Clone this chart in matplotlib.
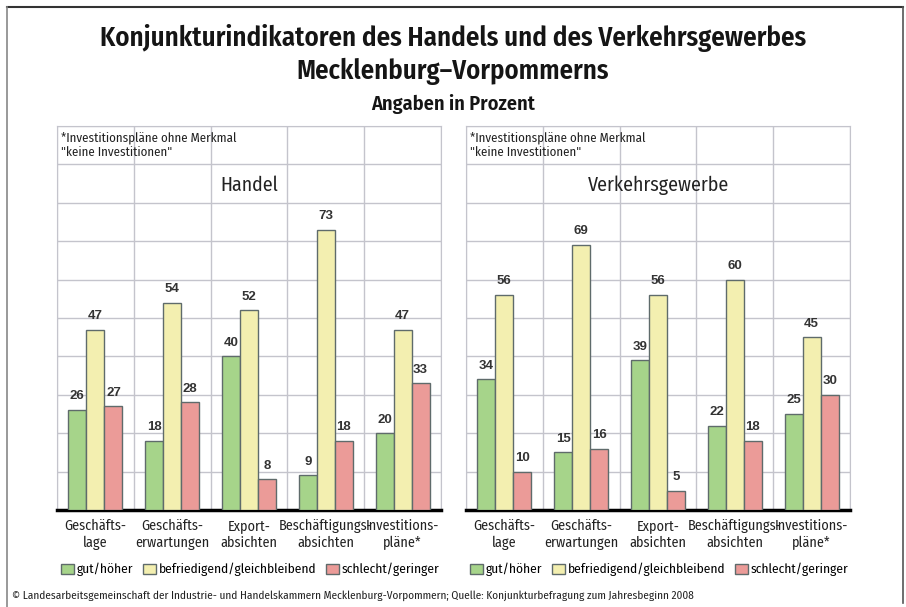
import numpy as np
import matplotlib
matplotlib.use("Agg")
import matplotlib.pyplot as plt
from matplotlib import font_manager
from matplotlib.patches import Patch
from matplotlib.lines import Line2D

# data
categories = ["Geschäfts-\nlage", "Geschäfts-\nerwartungen", "Export-\nabsichten",
              "Beschäftigungs-\nabsichten", "Investitions-\npläne*"]
series_names = ["gut/höher", "befriedigend/gleichbleibend", "schlecht/geringer"]
handel_gut = [26, 18, 40, 9, 20]
handel_befr = [47, 54, 52, 73, 47]
handel_schl = [27, 28, 8, 18, 33]
verkehr_gut = [34, 15, 39, 22, 25]
verkehr_befr = [56, 69, 56, 60, 45]
verkehr_schl = [10, 16, 5, 18, 30]

colors = ["#a6d48a", "#f3efb0", "#eb9b98"]

# pick a condensed font that is there
installed = set(f.name for f in font_manager.fontManager.ttflist)
narrow = "DejaVu Sans"
for cand in ["Fira Sans Condensed", "Encode Sans Semi Condensed", "Roboto Condensed",
             "Asap Condensed", "PT Sans Narrow", "Liberation Sans Narrow"]:
    if cand in installed:
        narrow = cand
        break
plt.rcParams['font.family'] = [narrow, "DejaVu Sans"]

fig = plt.figure(figsize=(9.06, 6.07), dpi=100)
W, H = 906, 607

def px_axes(x0, x1, y0, y1):
    return fig.add_axes([x0 / W, 1 - y1 / H, (x1 - x0) / W, (y1 - y0) / H])

def panel(ax, data, name):
    x = np.arange(len(categories))
    bw = 0.235
    for i, vals in enumerate(data):
        pos = x + (i - 1) * bw
        ax.bar(pos, vals, bw, color=colors[i], edgecolor="#5f6b6b", linewidth=1, zorder=3)
        for p, v in zip(pos, vals):
            ax.text(p, v + 2.0, str(v), ha="center", va="bottom", fontsize=9.5,
                    fontweight="bold", color="#333333", family="Liberation Sans", zorder=4)
    ax.set_xlim(-0.5, len(categories) - 0.5)
    ax.set_ylim(0, 100)
    ax.set_yticks(np.arange(0, 101, 10))
    ax.set_xticks(np.arange(-0.5, len(categories), 1))
    ax.grid(True, color="#c4c4cc", linewidth=1, zorder=0)
    ax.tick_params(length=0, labelleft=False, labelbottom=False)
    for s in ["left", "right", "top"]:
        ax.spines[s].set_color("#c4c4cc")
    ax.spines["bottom"].set_color("black")
    ax.spines["bottom"].set_linewidth(2.5)
    for i, c in enumerate(categories):
        ax.text(i, -2.3, c, ha="center", va="top", fontsize=10.2, linespacing=1.25,
                color="#222222")
    ax.text(0.5, 0.845, name, transform=ax.transAxes, ha="center", va="center",
            fontsize=14.3, color="#222222")
    ax.text(0.01, 0.985, '*Investitionspläne ohne Merkmal\n"keine Investitionen"',
            transform=ax.transAxes, ha="left", va="top", fontsize=9.3,
            linespacing=1.2, color="#222222")
    handles = [Patch(facecolor=colors[i], edgecolor="#5f6b6b", label=series_names[i])
               for i in range(3)]
    ax.legend(handles=handles, loc="upper left", bbox_to_anchor=(0.01, -0.138),
              ncol=3, frameon=False, fontsize=9.6, handlelength=1.0, handleheight=0.75,
              handletextpad=0.2, columnspacing=0.7, borderpad=0, borderaxespad=0)

ax1 = px_axes(57, 441, 126, 510)
panel(ax1, [handel_gut, handel_befr, handel_schl], "Handel")
ax2 = px_axes(466, 850, 126, 510)
panel(ax2, [verkehr_gut, verkehr_befr, verkehr_schl], "Verkehrsgewerbe")

fig.text(0.5, 1 - 38 / H, "Konjunkturindikatoren des Handels und des Verkehrsgewerbes",
         ha="center", va="center", fontsize=19.4, fontweight="semibold", color="#151515")
fig.text(0.5, 1 - 71 / H, "Mecklenburg–Vorpommerns",
         ha="center", va="center", fontsize=19.2, fontweight="semibold", color="#151515")
fig.text(0.5, 1 - 104 / H, "Angaben in Prozent",
         ha="center", va="center", fontsize=14.6, fontweight="semibold", color="#151515")
fig.text(12 / W, 1 - 596 / H,
         "© Landesarbeitsgemeinschaft der Industrie- und Handelskammern Mecklenburg-Vorpommern; "
         "Quelle: Konjunkturbefragung zum Jahresbeginn 2008",
         ha="left", va="center", fontsize=8.1, color="#222222")

# outer frame
fig.add_artist(Line2D([7 / W, 903 / W], [1 - 7 / H, 1 - 7 / H], transform=fig.transFigure,
                      color="#333333", linewidth=1.5))
fig.add_artist(Line2D([7 / W, 7 / W], [1 - 7 / H, 0], transform=fig.transFigure,
                      color="#888888", linewidth=1.2))
fig.add_artist(Line2D([903 / W, 903 / W], [1 - 7 / H, 1 - 603 / H], transform=fig.transFigure,
                      color="#555555", linewidth=1.2))

fig.savefig("out.png", dpi=100)
